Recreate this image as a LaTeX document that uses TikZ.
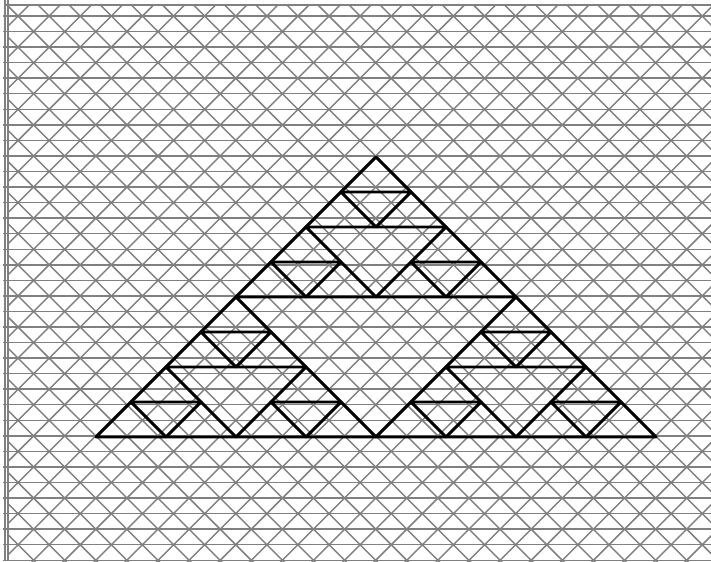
\documentclass[tikz,border=0pt]{standalone}
\begin{document}
\begin{tikzpicture}[
    x=0.75pt, y=-0.75pt,
    rejilla/.style={draw=gray, line width=1.1pt},
    borde/.style={draw=black, line width=2.2pt, line cap=round, line join=round}
]
\useasboundingbox (0,0) rectangle (711,561);
\fill[white] (0,0) rectangle (711,561);

% papel cuadriculado
\draw[rejilla] (5,5) -- (711,5);
\foreach \k in {0,...,35}
    \draw[rejilla] (3,{16+15.55*\k}) -- (711,{16+15.55*\k});
\begin{scope}
    \clip (7,5) rectangle (711,561);
    \foreach \k in {-19,...,23}
        \draw[rejilla] ({2+31.1*\k},0) -- ({602+31.1*\k},600);
    \foreach \k in {0,...,41}
        \draw[rejilla] ({3+31.1*\k},0) -- ({-597+31.1*\k},600);
\end{scope}
\draw[rejilla] (5,0) -- (5,561);
\draw[rejilla] (8,0) -- (8,561);

% triangulo de Sierpinski
\draw[borde] (376,157) -- (96,437) -- (656,437) -- cycle;
\foreach \ax/\ay/\h in {376/157/280,
    376/157/140, 236/297/140, 516/297/140,
    376/157/70, 306/227/70, 446/227/70,
    236/297/70, 166/367/70, 306/367/70,
    516/297/70, 446/367/70, 586/367/70}
    \draw[borde] ({\ax-\h/2},{\ay+\h/2}) -- ({\ax+\h/2},{\ay+\h/2})
        -- (\ax,{\ay+\h}) -- cycle;

\end{tikzpicture}
\end{document}
